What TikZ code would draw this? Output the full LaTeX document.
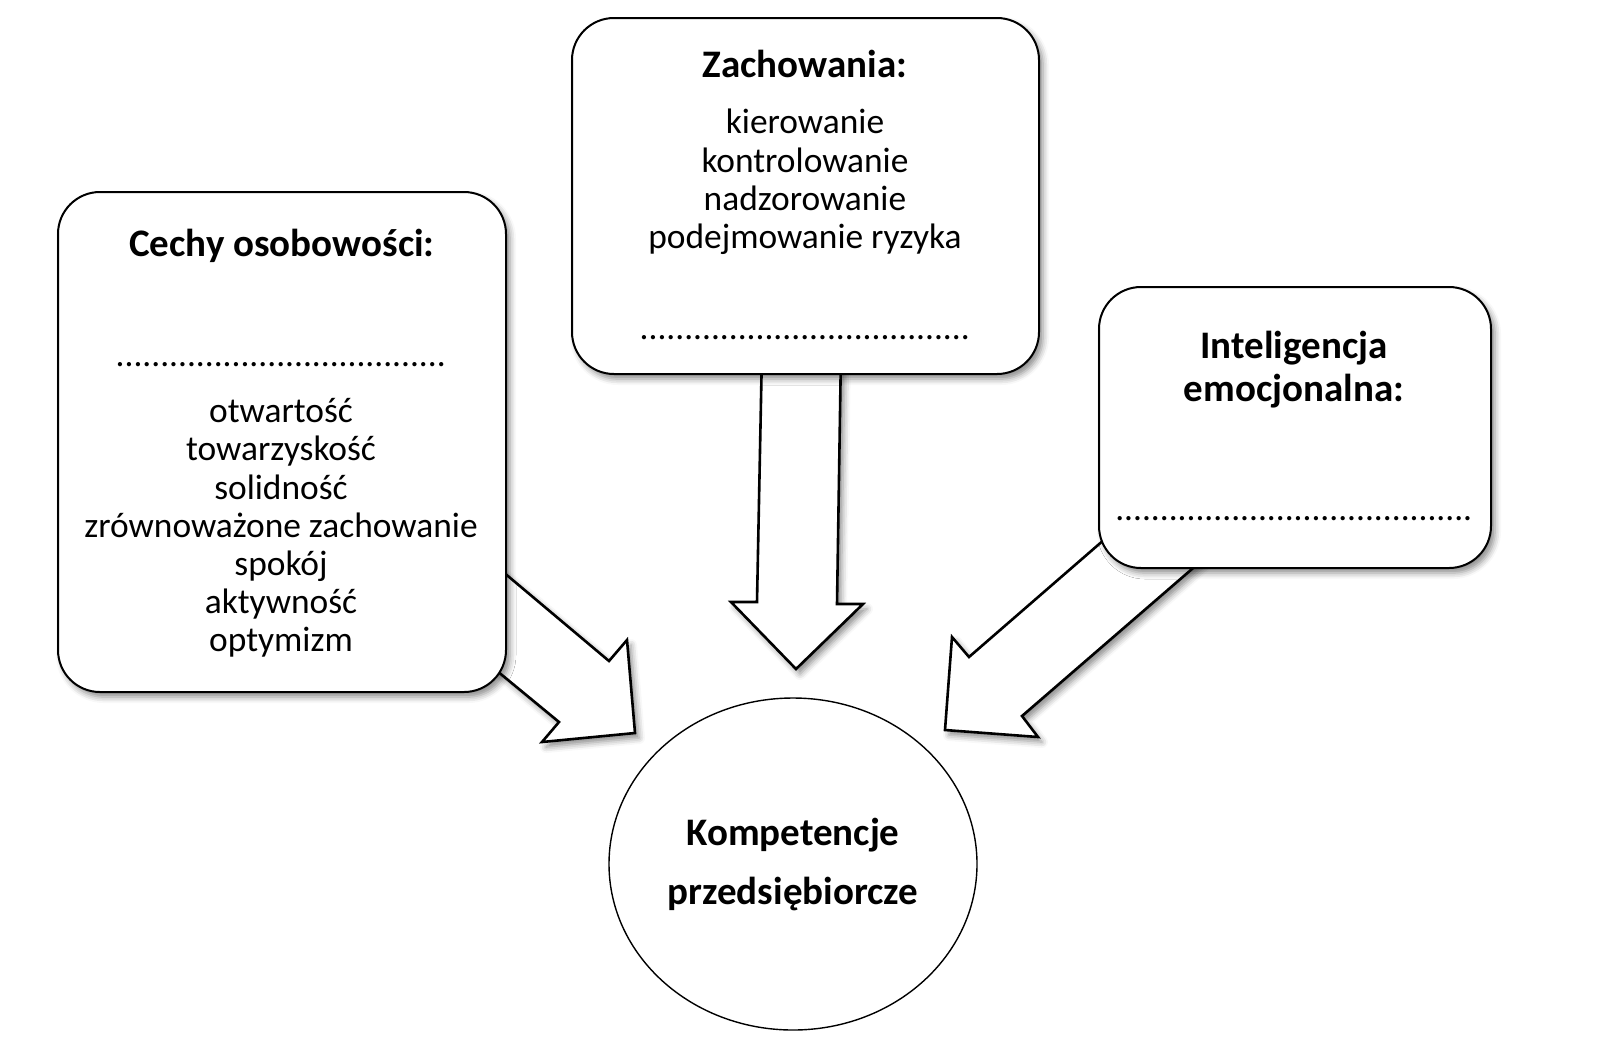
\documentclass[tikz,border=0pt]{standalone}
\usepackage{fontspec}
\setmainfont{Carlito}
\usetikzlibrary{shapes.geometric,shadows.blur}

\begin{document}
\begin{tikzpicture}[x=0.5pt,y=-0.5pt,
  cien/.style={blur shadow={shadow xshift=2pt,shadow yshift=-2.5pt,shadow blur radius=3pt,shadow opacity=45}},
  panel/.style={draw,line width=1pt,fill=white,rounded corners=21pt,cien},
  blockarrow/.style={draw,line width=1.3pt,fill=white,line join=miter,cien},
  title/.style={font=\bfseries\fontsize{19.5}{21.5}\selectfont,align=center,inner sep=0pt},
  items/.style={font=\fontsize{17.7}{19.1}\selectfont,align=center,inner sep=0pt}]
  \useasboundingbox (0,0) rectangle (1600,1056);

  % arrows
  \draw[blockarrow] (477,550) -- (609,661) -- (627,640) -- (635,733) -- (542,742) -- (559,722) -- (468,647) -- cycle;
  \draw[blockarrow] (762,350) -- (757,602) -- (731,602) -- (796,669) -- (863,604) -- (837,604) -- (841,350) -- cycle;
  \draw[blockarrow] (1128,519) -- (969,657) -- (952,637) -- (945,730) -- (1038,737) -- (1022,716) -- (1222,543) -- cycle;

  % boxes
  \draw[panel] (58,192) rectangle (506,692);
  \draw[panel] (572,18) rectangle (1039,374);
  \draw[panel] (1099,287) rectangle (1491,568);

  \node[title] at (282,246) (cechy) {Cechy osobowości:};
  \node[items] at (281,365) (kropki1) {.....................................};
  \node[items] at (281,528) (lista1) {otwartość\\towarzyskość\\solidność\\zrównoważone zachowanie\\spokój\\aktywność\\optymizm};

  \node[title] at (805,64) (zach) {Zachowania:};
  \node[items] at (805,182) (lista2) {kierowanie\\kontrolowanie\\nadzorowanie\\podejmowanie ryzyka};
  \node[items] at (805,338) (kropki2) {.....................................};

  \node[title] at (1294,370) (intel) {Inteligencja\\emocjonalna:};
  \node[items] at (1294,519) (kropki3) {........................................};

  \node[draw,ellipse,line width=0.7pt,minimum width=184pt,minimum height=166pt,inner sep=0pt,
    title,font=\bfseries\fontsize{19.5}{29.5}\selectfont] at (793,864) (komp) {Kompetencje\\przedsiębiorcze};
\end{tikzpicture}
\end{document}
